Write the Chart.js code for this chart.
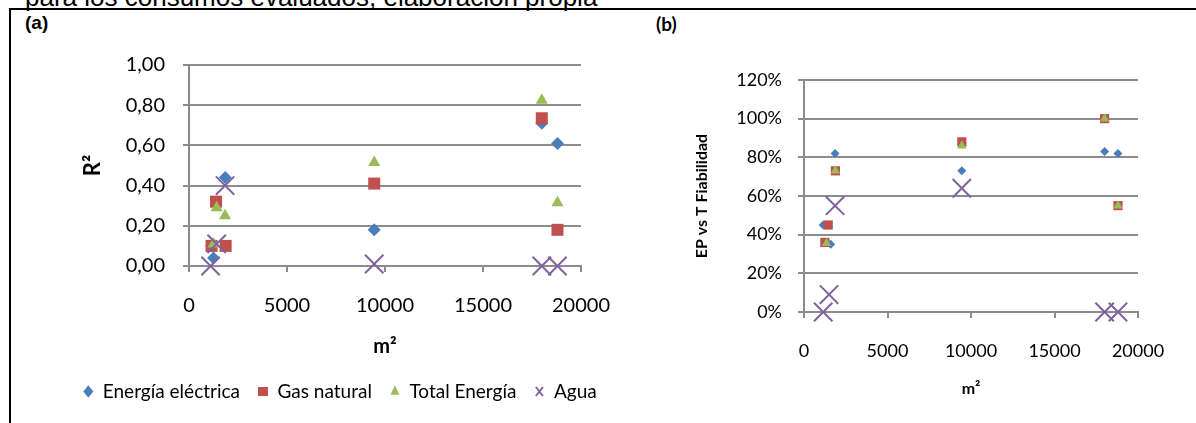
<!DOCTYPE html>
<html>
<head>
<meta charset="utf-8">
<script src="https://cdn.jsdelivr.net/npm/chart.js"></script>
<style>
  html, body { margin: 0; padding: 0; background: #fff; }
  body { width: 1196px; height: 423px; position: relative; overflow: hidden; }
  .caption { position: absolute; left: 25px; top: -16px; font: 26px/26px "Liberation Sans", Arial, sans-serif; white-space: nowrap; color: #000; }
  .hline { position: absolute; left: 9px; top: 8px; width: 1187px; height: 2px; background: #000; }
  .vline { position: absolute; left: 9px; top: 8px; width: 2px; height: 415px; background: #000; }
  .tagA { position: absolute; left: 25px; top: 13px; font: bold 19px/19px "Liberation Sans", Arial, sans-serif; }
  .tagB { position: absolute; left: 656px; top: 14px; font: bold 19px/19px Lato, sans-serif; }
  #chartA { position: absolute; left: 40px; top: 0; }
  #chartB { position: absolute; left: 640px; top: 0; }
</style>
</head>
<body>
<div class="caption">para los consumos evaluados, elaboración propia</div>
<div class="hline"></div>
<div class="vline"></div>
<div class="tagA">(a)</div>
<div class="tagB">(b)</div>
<canvas id="chartA" width="600" height="423"></canvas>
<canvas id="chartB" width="556" height="423"></canvas>
<script>
// series names (legend)
const seriesNames = ['Energía eléctrica', 'Gas natural', 'Total Energía', 'Agua'];

// (a) R² against floor area (m²)
const areaElecA = [1150, 1250, 1850, 9450, 18000, 18800];
const r2Elec    = [0.10, 0.04, 0.44, 0.18, 0.71, 0.61];
const areaGasA  = [1150, 1380, 1870, 9450, 18000, 18800];
const r2Gas     = [0.10, 0.32, 0.10, 0.41, 0.735, 0.18];
const areaTotA  = [1250, 1410, 1840, 9450, 18000, 18800];
const r2Tot     = [0.11, 0.29, 0.25, 0.515, 0.825, 0.315];
const areaAguaA = [1100, 1410, 1840, 9450, 18000, 18800];
const r2Agua    = [0.00, 0.11, 0.40, 0.01, 0.00, 0.00];

// (b) EP vs T reliability against floor area (m²)
const areaElecB = [1150, 1600, 1860, 9450, 18000, 18800];
const fiabElec  = [0.45, 0.35, 0.82, 0.73, 0.83, 0.82];
const areaGasB  = [1250, 1450, 1880, 9450, 18000, 18800];
const fiabGas   = [0.36, 0.45, 0.73, 0.88, 1.00, 0.55];
const areaTotB  = [1350, 1880, 9450, 18000, 18800];
const fiabTot   = [0.355, 0.73, 0.86, 1.00, 0.55];
const areaAguaB = [1150, 1500, 1860, 9450, 18000, 18800];
const fiabAgua  = [0.00, 0.09, 0.55, 0.64, 0.00, 0.00];

// axis ticks
const xTicks = { min: 0, max: 20000, step: 5000 };
const yTicksA = { min: 0, max: 1, step: 0.2 };
const yTicksB = { min: 0, max: 1.2, step: 0.2 };

Chart.defaults.font.family = 'Lato, "Open Sans", sans-serif';
Chart.defaults.color = '#000';

const gridGray = '#8c8c8c';
const markers = [
  { color: '#4a7ebb', style: 'rectRot' },
  { color: '#c0504d', style: 'rect' },
  { color: '#9bbb59', style: 'triangle' },
  { color: '#7f63a1', style: 'crossRot' }
];

function pts(xs, ys) {
  return xs.map((x, i) => ({ x: x, y: ys[i] }));
}

function makeSet(i, xs, ys, radius) {
  const m = markers[i];
  return {
    label: seriesNames[i],
    data: pts(xs, ys),
    showLine: false,
    pointStyle: m.style,
    backgroundColor: m.color,
    borderColor: m.color,
    borderWidth: m.style === 'crossRot' ? 2 : 0,
    pointRadius: radius,
    pointHoverRadius: radius,
    order: 4 - i,   // later series on top, like the original
    clip: false
  };
}

function gridOpts(onArea) {
  return { drawOnChartArea: onArea, drawTicks: true, tickLength: 6, color: gridGray, lineWidth: 2 };
}

// chart (a)
new Chart(document.getElementById('chartA'), {
  type: 'scatter',
  data: {
    datasets: [
      makeSet(0, areaElecA, r2Elec, 6.5),
      makeSet(1, areaGasA, r2Gas, 8.5),
      makeSet(2, areaTotA, r2Tot, 7),
      makeSet(3, areaAguaA, r2Agua, 13)
    ]
  },
  options: {
    responsive: false,
    animation: false,
    layout: { padding: { left: 0, right: 0, top: 65, bottom: 12 } },
    plugins: {
      tooltip: { enabled: false },
      legend: {
        position: 'bottom',
        labels: {
          usePointStyle: true,
          boxHeight: 9,
          pointStyleWidth: 10,
          padding: 18,
          font: { size: 19 },
          color: '#000',
          sort: (a, b) => a.datasetIndex - b.datasetIndex
        }
      }
    },
    scales: {
      x: {
        type: 'linear',
        min: xTicks.min, max: xTicks.max,
        ticks: { stepSize: xTicks.step, padding: 22, font: { size: 20 }, maxRotation: 0, callback: v => String(v) },
        grid: gridOpts(false),
        border: { display: true, color: gridGray, width: 2 },
        title: { display: true, text: 'm²', font: { size: 20, weight: 'bold' }, padding: { top: 0, bottom: 5 } },
        // keep the plot narrower than the legend row
        afterFit: s => { s.height = 98; s.paddingRight = 59; }
      },
      y: {
        min: yTicksA.min, max: yTicksA.max,
        ticks: { stepSize: yTicksA.step, padding: 18, font: { size: 20 }, callback: v => v.toFixed(2).replace('.', ',') },
        grid: gridOpts(true),
        border: { display: true, color: gridGray, width: 2 },
        title: { display: true, text: 'R²', font: { size: 22, weight: 'bold' }, padding: { top: 40, bottom: 0 } },
        afterFit: s => { s.width = 149; }
      }
    }
  }
});

// chart (b)
new Chart(document.getElementById('chartB'), {
  type: 'scatter',
  data: {
    datasets: [
      makeSet(0, areaElecB, fiabElec, 4.5),
      makeSet(1, areaGasB, fiabGas, 6.5),
      makeSet(2, areaTotB, fiabTot, 5.5),
      makeSet(3, areaAguaB, fiabAgua, 13)
    ]
  },
  options: {
    responsive: false,
    animation: false,
    layout: { padding: { left: 0, right: 58, top: 80, bottom: 11 } },
    plugins: {
      tooltip: { enabled: false },
      legend: { display: false }
    },
    scales: {
      x: {
        type: 'linear',
        min: xTicks.min, max: xTicks.max,
        ticks: { stepSize: xTicks.step, padding: 22, font: { size: 18 }, maxRotation: 0, callback: v => String(v) },
        grid: gridOpts(false),
        border: { display: true, color: gridGray, width: 2 },
        title: { display: true, text: 'm²', font: { size: 16, weight: 'bold' }, padding: { top: 0, bottom: 14 } },
        afterFit: s => { s.height = 100; }
      },
      y: {
        min: yTicksB.min, max: yTicksB.max,
        ticks: { stepSize: yTicksB.step, padding: 16, font: { size: 18 }, callback: v => Math.round(v * 100) + '%' },
        grid: gridOpts(true),
        border: { display: true, color: gridGray, width: 2 },
        title: { display: true, text: 'EP vs T Fiabilidad', font: { size: 16, weight: 'bold' }, padding: { top: 52, bottom: 0 } },
        afterFit: s => { s.width = 164; }
      }
    }
  }
});
</script>
</body>
</html>
